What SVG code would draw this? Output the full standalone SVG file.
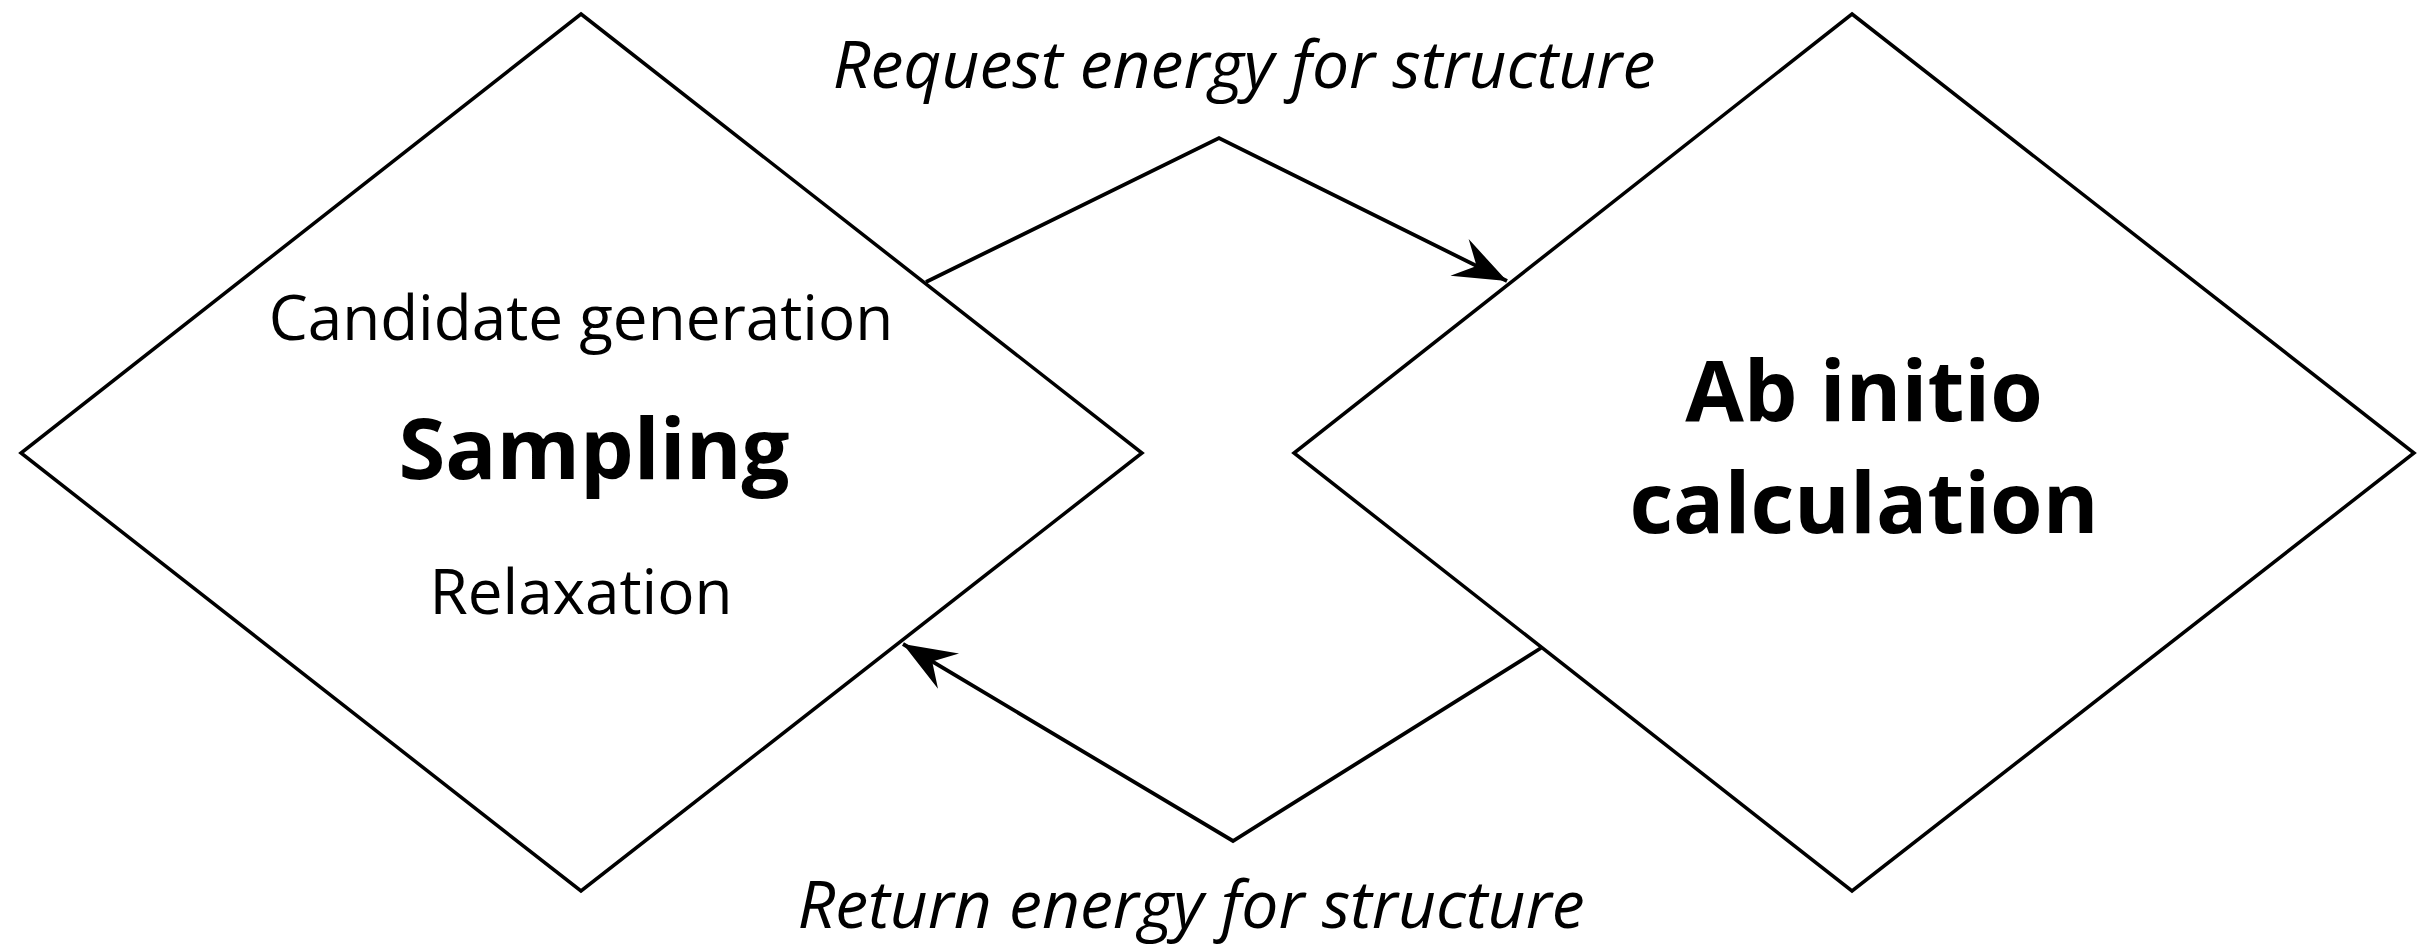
<svg xmlns="http://www.w3.org/2000/svg" width="2424" height="944" viewBox="0 0 2424 944">
  <style>
    .shape { fill: #ffffff; stroke: #000000; stroke-width: 3.5; stroke-linejoin: miter; }
    .conn { fill: none; stroke: #000000; stroke-width: 3.8; stroke-linejoin: miter; }
    .t { font-family: "Open Sans", "Liberation Sans", sans-serif; fill: #000000; text-anchor: middle; }
    .small { font-size: 62px; }
    .big { font-size: 85px; font-weight: bold; }
    .lab { font-size: 66px; font-style: italic; }
  </style>
  <defs>
    <marker id="arrow" markerUnits="userSpaceOnUse" viewBox="-60 -25 65 50" refX="0" refY="0" markerWidth="65" markerHeight="50" orient="auto" overflow="visible">
      <path d="M0,0 L-53,-20.5 L-34,0 L-53,20.5 Z" fill="#000000" stroke="none"/>
    </marker>
  </defs>
  <rect width="2424" height="944" fill="#ffffff"/>
  <g id="connectors">
    <path class="conn" d="M926,282 L1219,138 L1507,281" marker-end="url(#arrow)"/>
    <path class="conn" d="M1541,648 L1233,841 L903,644" marker-end="url(#arrow)"/>
  </g>
  <g id="node-sampling">
    <polygon class="shape" points="581,14 1142,453 581,891 21,453"/>
    <text class="t small" x="581" y="340">Candidate generation</text>
    <text class="t big" x="594" y="479">Sampling</text>
    <text class="t small" x="581" y="614">Relaxation</text>
  </g>
  <g id="node-abinitio">
    <polygon class="shape" points="1852,14 2414,453 1852,891 1294,453"/>
    <text class="t big" x="1864" y="421">Ab initio</text>
    <text class="t big" x="1864" y="533">calculation</text>
  </g>
  <g id="label-request">
    <text class="t lab" x="1244" y="88">Request energy for structure</text>
  </g>
  <g id="label-return">
    <text class="t lab" x="1191" y="928">Return energy for structure</text>
  </g>
</svg>
